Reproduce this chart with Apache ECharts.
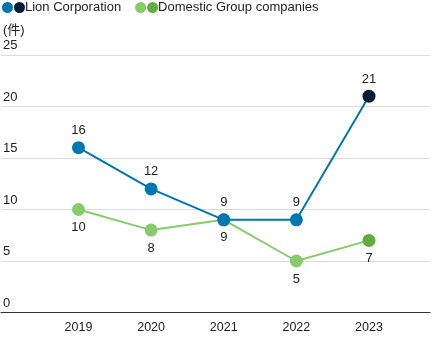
<!DOCTYPE html>
<html>
<head>
<meta charset="utf-8">
<script src="https://cdn.jsdelivr.net/npm/echarts@6/dist/echarts.min.js"></script>
<style>
  html, body { margin: 0; padding: 0; background: #fff; }
  #chart { width: 432px; height: 342px; }
</style>
</head>
<body>
<div id="chart"></div>
<script>
// Fiscal years on the horizontal axis
const years = [2019, 2020, 2021, 2022, 2023];
// Number of cases per year
const lionValues = [16, 12, 9, 9, 21];
const domesticValues = [10, 8, 9, 5, 7];
// Vertical axis ticks
const yTicks = [0, 5, 10, 15, 20, 25];

const FONT = '"Liberation Sans", Arial, "Noto Sans CJK JP", sans-serif';
const TEXT = '#222';

const LION = '#0077ae';
const LION_LAST = '#0b1c38';
const DOM = '#86cc6a';
const DOM_LAST = '#62ad42';

// Each series highlights its latest year with a darker marker
function points(values, lastColor) {
  return values.map((v, i) => {
    const item = { value: [years[i], v] };
    if (i === values.length - 1) item.itemStyle = { color: lastColor };
    return item;
  });
}

const chart = echarts.init(document.getElementById('chart'), null, { renderer: 'canvas' });

const dot = c => ({ width: 11, height: 11, borderRadius: 6, backgroundColor: c });

chart.setOption({
  animation: false,
  textStyle: { fontFamily: FONT, color: TEXT },
  legend: {
    left: -3,
    top: 1,
    padding: 0,
    icon: 'none',
    itemWidth: 0,
    itemHeight: 11,
    itemGap: 9,
    data: ['Lion Corporation', 'Domestic Group companies'],
    formatter: name => name === 'Lion Corporation'
      ? '{a|}{s|}{b|}{t|' + name + '}'
      : '{c|}{s|}{d|}{t|' + name + '}',
    textStyle: {
      fontFamily: FONT,
      fontSize: 13,
      color: TEXT,
      rich: {
        a: dot(LION),
        b: dot(LION_LAST),
        c: dot(DOM),
        d: dot(DOM_LAST),
        s: { width: 1 },
        t: { fontFamily: FONT, fontSize: 13, color: TEXT }
      }
    }
  },
  grid: { left: 0, right: 2, top: 55, bottom: 29.5, containLabel: false },
  xAxis: {
    type: 'value',
    min: 2017.933,
    max: 2023.84,
    axisLine: { show: true, lineStyle: { color: '#333', width: 1.2 } },
    axisTick: { show: false },
    splitLine: { show: false },
    axisLabel: {
      customValues: years,
      formatter: v => String(Math.round(v)),
      fontFamily: FONT,
      fontSize: 12.5,
      color: TEXT,
      margin: 9
    }
  },
  yAxis: {
    type: 'value',
    min: yTicks[0],
    max: yTicks[yTicks.length - 1],
    interval: 5,
    name: '(件)',
    nameLocation: 'end',
    nameGap: 25,
    nameTextStyle: { align: 'left', verticalAlign: 'middle', fontSize: 13, color: TEXT, fontFamily: FONT, padding: [0, 0, 0, 2] },
    axisLine: { show: false },
    axisTick: { show: false },
    splitLine: { lineStyle: { color: '#dcdcdc', width: 1 } },
    axisLabel: {
      inside: true,
      margin: 2,
      verticalAlign: 'bottom',
      padding: [0, 0, 3, 0],
      fontFamily: FONT,
      fontSize: 13,
      color: TEXT
    }
  },
  series: [
    {
      name: 'Domestic Group companies',
      type: 'line',
      z: 2,
      data: points(domesticValues, DOM_LAST),
      color: DOM,
      symbol: 'circle',
      symbolSize: 13,
      lineStyle: { color: DOM, width: 2 },
      itemStyle: { color: DOM },
      label: { show: true, position: 'bottom', distance: 5, fontSize: 13, color: TEXT, fontFamily: FONT,
        formatter: p => p.value[1] }
    },
    {
      name: 'Lion Corporation',
      type: 'line',
      z: 3,
      data: points(lionValues, LION_LAST),
      color: LION,
      symbol: 'circle',
      symbolSize: 13,
      lineStyle: { color: LION, width: 2 },
      itemStyle: { color: LION },
      label: { show: true, position: 'top', distance: 4, fontSize: 13, color: TEXT, fontFamily: FONT,
        formatter: p => p.value[1] }
    }
  ]
});
</script>
</body>
</html>
